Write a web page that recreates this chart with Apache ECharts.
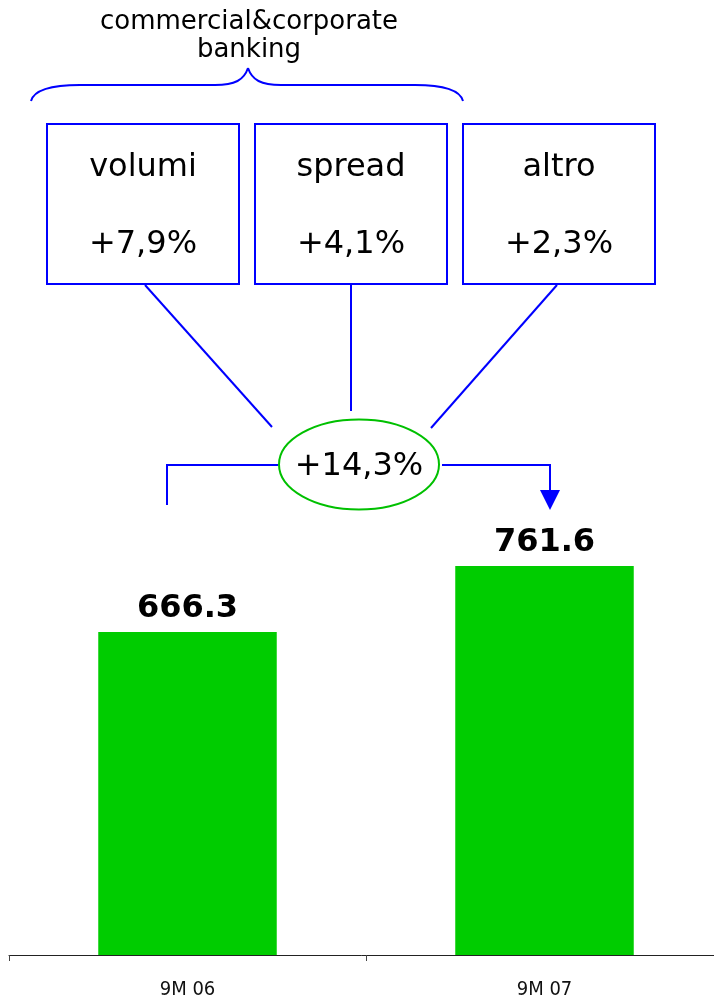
<!DOCTYPE html>
<html>
<head>
<meta charset="utf-8">
<style>html,body{margin:0;padding:0;background:#fff}#c{width:714px;height:999px}</style>
<script src="https://cdn.jsdelivr.net/npm/echarts@6/dist/echarts.min.js"></script>
</head>
<body>
<div id="c"></div>
<script>
const categories = ['9M 06', '9M 07'];
const values = [666.3, 761.6];
const headerLines = ['commercial&corporate', 'banking'];
const driverNames = ['volumi', 'spread', 'altro'];
const driverValues = ['+7,9%', '+4,1%', '+2,3%'];
const totalGrowth = '+14,3%';

const chart = echarts.init(document.getElementById('c'));
const BLUE = '#0000ff';
const font = '"DejaVu Sans", Verdana, sans-serif';
const ln = {stroke: BLUE, lineWidth: 2, fill: null};

const boxes = [47, 255, 463];
const graphics = [];
graphics.push({type:'text', style:{text: headerLines.join('\n'), x: 249, y: 36, fontFamily: font, fontSize: 26, lineHeight: 28, fill:'#000', align:'center', verticalAlign:'middle'}});
// brace
const curve = (x1,y1,cx1,cy1,cx2,cy2,x2,y2) => ({type:'bezierCurve', shape:{x1,y1,cpx1:cx1,cpy1:cy1,cpx2:cx2,cpy2:cy2,x2,y2}, style:ln});
graphics.push(curve(31,101, 34,90, 50,85, 80,85));
graphics.push({type:'line', shape:{x1:80,y1:85,x2:215,y2:85}, style:ln});
graphics.push(curve(215,85, 235,85, 244,80, 248,68));
graphics.push(curve(248,68, 252,80, 261,85, 281,85));
graphics.push({type:'line', shape:{x1:281,y1:85,x2:415,y2:85}, style:ln});
graphics.push(curve(415,85, 445,85, 460,90, 463,101));
boxes.forEach((x, i) => {
  graphics.push({type:'rect', shape:{x:x, y:124, width:192, height:160}, style:{stroke:BLUE, lineWidth:2, fill:'#fff'}});
  graphics.push({type:'text', style:{text: driverNames[i], x: x+96, y: 168, fontFamily: font, fontSize: 32, fill:'#000', align:'center', verticalAlign:'middle'}});
  graphics.push({type:'text', style:{text: driverValues[i], x: x+96, y: 245, fontFamily: font, fontSize: 32, fill:'#000', align:'center', verticalAlign:'middle'}});
});
// connectors
graphics.push({type:'line', shape:{x1:145, y1:285, x2:272, y2:427}, style:ln});
graphics.push({type:'line', shape:{x1:351, y1:285, x2:351, y2:411}, style:ln});
graphics.push({type:'line', shape:{x1:557, y1:285, x2:431, y2:428}, style:ln});
graphics.push({type:'polyline', shape:{points:[[167,505],[167,465],[278,465]]}, style:ln});
graphics.push({type:'polyline', shape:{points:[[442,465],[550,465],[550,492]]}, style:ln});
graphics.push({type:'polygon', shape:{points:[[540,490],[560,490],[550,510]]}, style:{fill:BLUE}});
graphics.push({type:'ellipse', shape:{cx:359, cy:464.5, rx:80, ry:45}, style:{stroke:'#00c000', lineWidth:2, fill:'#fff'}});
graphics.push({type:'text', style:{text: totalGrowth, x: 359, y: 467, fontFamily: font, fontSize: 32, fill:'#000', align:'center', verticalAlign:'middle'}});

chart.setOption({
  animation: false,
  backgroundColor: '#fff',
  grid: {left: 9, width: 714, top: 401, bottom: 44, containLabel: false, outerBoundsMode: 'none'},
  xAxis: {
    type: 'category', data: categories, boundaryGap: true,
    axisLine: {lineStyle: {color: '#222', width: 1}},
    axisTick: {show: true, length: 6, lineStyle: {color: '#444'}},
    axisLabel: {margin: 25, fontFamily: '"DejaVu Sans Condensed", "DejaVu Sans", sans-serif', fontSize: 20, color: '#111'}
  },
  yAxis: {type: 'value', min: 200, max: 1000, show: false, splitLine: {show: false}},
  series: [{
    type: 'bar', data: values, barWidth: '50%',
    itemStyle: {color: '#00cc00'},
    label: {show: true, position: 'top', distance: 7, fontFamily: font, fontWeight: 'bold', fontSize: 32, color: '#000', formatter: p => p.value.toFixed(1)}
  }],
  graphic: graphics
});
</script>
</body>
</html>
